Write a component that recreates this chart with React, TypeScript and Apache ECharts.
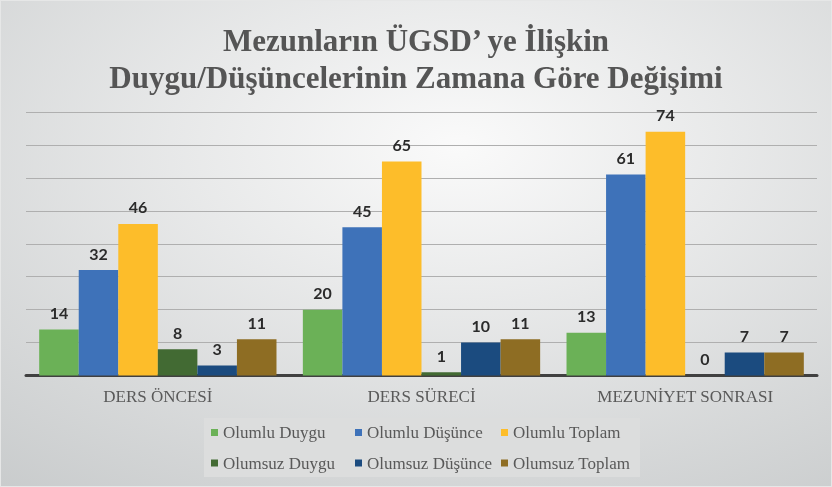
import React, { useEffect, useRef } from "react";
import * as echarts from "echarts";

const categories = ["DERS ÖNCESİ", "DERS SÜRECİ", "MEZUNİYET SONRASI"];
const seriesNames = [
  "Olumlu Duygu",
  "Olumlu Düşünce",
  "Olumlu Toplam",
  "Olumsuz Duygu",
  "Olumsuz Düşünce",
  "Olumsuz Toplam",
];
const olumluDuygu = [14, 20, 13];
const olumluDusunce = [32, 45, 61];
const olumluToplam = [46, 65, 74];
const olumsuzDuygu = [8, 1, 0];
const olumsuzDusunce = [3, 10, 7];
const olumsuzToplam = [11, 11, 7];
const seriesValues = [olumluDuygu, olumluDusunce, olumluToplam, olumsuzDuygu, olumsuzDusunce, olumsuzToplam];
const seriesColors = ["#6BB157", "#3E72B9", "#FDBD2A", "#426A33", "#1B4B7F", "#8E6D23"];
const titleLines = ["Mezunların ÜGSD’ ye İlişkin", "Duygu/Düşüncelerinin Zamana Göre Değişimi"];

export default function App() {
  const ref = useRef<HTMLDivElement>(null);
  useEffect(() => {
    if (!ref.current) return;
    const chart = echarts.init(ref.current, null, { renderer: "svg" });
    const legendText = { fontFamily: "Liberation Serif", fontSize: 17, color: "#595959" };
    const mkLegend = (left: number, data: string[]) => ({
      orient: "vertical",
      left,
      top: 424,
      padding: 0,
      itemWidth: 7,
      itemHeight: 7,
      itemGap: 13.5,
      icon: "rect",
      textStyle: legendText,
      data,
    });
    chart.setOption({
      animation: false,
      title: {
        text: titleLines.join("\n"),
        left: "center",
        top: 17,
        textStyle: {
          fontFamily: "Liberation Serif",
          fontWeight: "bold",
          fontSize: 31,
          lineHeight: 37,
          color: "#555555",
        },
      },
      graphic: [
        {
          type: "rect",
          z: -100,
          shape: { x: 0, y: 0, width: 832, height: 487 },
          style: {
            fill: {
              type: "radial",
              x: 0.55,
              y: 0.3,
              r: 1.0,
              colorStops: [
                { offset: 0, color: "#FAFAFA" },
                { offset: 1, color: "#C3C6C7" },
              ],
            },
            stroke: "#E6E7E7",
            lineWidth: 2,
          },
        },
        {
          type: "rect",
          z: -50,
          shape: { x: 204, y: 418, width: 436, height: 59 },
          style: { fill: "#DCDDDD" },
        },
      ],
      legend: [
        mkLegend(211, [seriesNames[0], seriesNames[3]]),
        mkLegend(355, [seriesNames[1], seriesNames[4]]),
        mkLegend(501, [seriesNames[2], seriesNames[5]]),
      ],
      grid: { left: 26, right: 15, top: 112, bottom: 111.5 },
      xAxis: {
        type: "category",
        data: categories,
        axisLine: { show: true, lineStyle: { color: "#404040", width: 3 } },
        axisTick: { show: false },
        axisLabel: {
          margin: 12,
          fontFamily: "Liberation Serif",
          fontSize: 17,
          color: "#595959",
        },
      },
      yAxis: {
        type: "value",
        min: 0,
        max: 80,
        interval: 10,
        axisLabel: { show: false },
        axisLine: { show: false },
        axisTick: { show: false },
        splitLine: { lineStyle: { color: "#AFAFAF", width: 1.2 } },
      },
      series: seriesNames.map((name, i) => ({
        name,
        type: "bar",
        data: seriesValues[i],
        barGap: "0%",
        barCategoryGap: "10%",
        itemStyle: { color: seriesColors[i] },
        label: {
          show: true,
          position: "top",
          distance: 9,
          fontFamily: "Lato",
          fontWeight: "bold",
          fontSize: 16,
          color: "#2B2B2B",
        },
      })),
    });
    return () => chart.dispose();
  }, []);
  return (
    <div
      ref={ref}
      style={{ position: "fixed", left: 0, top: 0, width: 832, height: 487 }}
    />
  );
}
